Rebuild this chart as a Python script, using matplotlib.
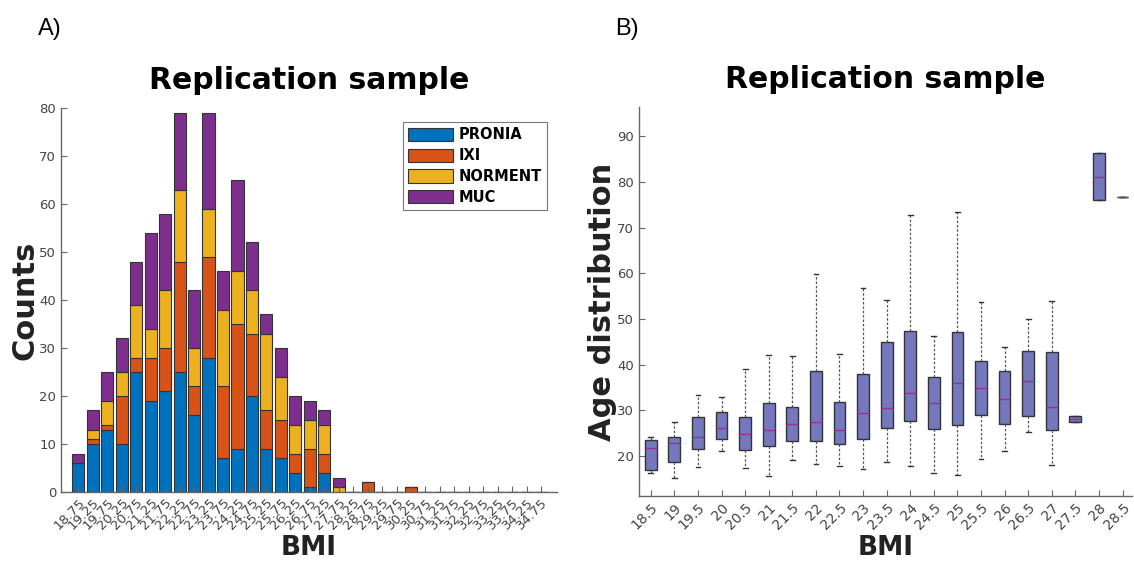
import matplotlib
matplotlib.use("Agg")
import matplotlib.pyplot as plt
import numpy as np

# ---------------- Data: panel A (stacked histogram) ----------------
bin_centers = [18.75 + 0.5 * i for i in range(33)]
pronia  = [6, 10, 13, 10, 25, 19, 21, 25, 16, 28, 7, 9, 20, 9, 7, 4, 1, 4, 0, 0, 0, 0, 0, 0] + [0] * 9
ixi     = [0, 1, 1, 10, 3, 9, 9, 23, 6, 21, 15, 26, 13, 8, 8, 4, 8, 4, 0, 0, 2, 0, 0, 1] + [0] * 9
norment = [0, 2, 5, 5, 11, 6, 12, 15, 8, 10, 16, 11, 9, 16, 9, 6, 6, 6, 1, 0, 0, 0, 0, 0] + [0] * 9
muc     = [2, 4, 6, 7, 9, 20, 16, 16, 12, 20, 8, 19, 10, 4, 6, 6, 4, 3, 2, 0, 0, 0, 0, 0] + [0] * 9
series_names = ["PRONIA", "IXI", "NORMENT", "MUC"]
series_colors = ["#0072BD", "#D95319", "#EDB120", "#7E2F8E"]

# ---------------- Data: panel B (box plots) ----------------
box_bmi = [18.5, 19, 19.5, 20, 20.5, 21, 21.5, 22, 22.5, 23, 23.5,
           24, 24.5, 25, 25.5, 26, 26.5, 27, 27.5, 28, 28.5]
box_labels = ["18.5", "19", "19.5", "20", "20.5", "21", "21.5", "22", "22.5", "23", "23.5",
              "24", "24.5", "25", "25.5", "26", "26.5", "27", "27.5", "28", "28.5"]
whis_lo = [16.3, 15.1, 17.5, 21.1, 17.4, 15.6, 19.1, 18.2, 17.8, 17.2, 18.7,
           17.8, 16.2, 15.8, 19.3, 21.2, 25.3, 18.0, 27.5, 76.0, 76.8]
q1      = [16.9, 18.6, 21.5, 23.7, 21.3, 22.2, 23.3, 23.3, 22.6, 23.7, 26.2,
           27.7, 25.9, 26.8, 28.9, 27.0, 28.8, 25.8, 27.5, 76.0, 76.8]
median  = [21.8, 22.8, 24.2, 26.2, 24.8, 25.8, 27.0, 27.4, 25.6, 29.5, 30.6,
           33.7, 31.5, 36.0, 35.0, 32.5, 36.5, 30.7, 28.1, 81.1, 76.8]
q3      = [23.5, 24.1, 28.6, 29.7, 28.5, 31.7, 30.8, 38.6, 31.9, 38.0, 44.9,
           47.4, 37.3, 47.2, 40.9, 38.6, 43.1, 42.8, 28.8, 86.3, 76.8]
whis_hi = [24.2, 27.4, 33.4, 33.0, 39.0, 42.1, 41.9, 59.8, 42.4, 56.7, 54.2,
           72.8, 46.3, 73.5, 53.7, 43.9, 49.9, 54.0, 28.8, 86.3, 76.8]

plt.rcParams['font.family'] = ['DejaVu Sans']
fig = plt.figure(figsize=(11.34, 5.65), dpi=100)

tick_color = "#444444"
spine_color = "#666666"

def style_axes(ax):
    for s in ["top", "right"]:
        ax.spines[s].set_visible(False)
    for s in ["left", "bottom"]:
        ax.spines[s].set_color(spine_color)
        ax.spines[s].set_linewidth(1.0)
    ax.tick_params(direction="in", colors=spine_color, labelcolor=tick_color,
                   labelsize=9.5, length=4, width=0.8)

# ---------------- Panel A ----------------
axA = fig.add_axes([0.0538, 0.1292, 0.4374, 0.6796])
bottom = np.zeros(len(bin_centers))
for name, vals, col in zip(series_names, [pronia, ixi, norment, muc], series_colors):
    v = np.array(vals, dtype=float)
    axA.bar(bin_centers, v, width=0.42, bottom=bottom, color=col,
            edgecolor="#333333", linewidth=0.8, label=name)
    bottom += v
axA.set_xlim(18.15, 35.3)
axA.set_ylim(0, 80)
axA.set_yticks(range(0, 81, 10))
axA.set_xticks(bin_centers)
axA.set_xticklabels([f"{b:.2f}" for b in bin_centers], rotation=45, ha="right",
                    rotation_mode="anchor")
style_axes(axA)
axA.tick_params(axis="x", labelsize=9.5, pad=3)
axA.set_title("Replication sample", fontsize=21.5, fontweight="bold", pad=14)
axA.set_ylabel("Counts", fontsize=22, fontweight="bold", color="#222222", labelpad=0)
axA.set_xlabel("BMI", fontsize=19, fontweight="bold", color="#222222", labelpad=2)
leg = axA.legend(loc="upper right", bbox_to_anchor=(0.98, 0.963),
                 prop={"weight": "bold", "size": 10.5}, frameon=True, fancybox=False,
                 edgecolor="#555555", handlelength=3.1, handleheight=1.0,
                 handletextpad=0.4, borderpad=0.35, labelspacing=0.4, borderaxespad=0)
leg.get_frame().set_linewidth(0.8)

# ---------------- Panel B ----------------
axB = fig.add_axes([0.5635, 0.1221, 0.4347, 0.6885])
stats = []
for i in range(len(box_bmi)):
    stats.append(dict(whislo=whis_lo[i], q1=q1[i], med=median[i], q3=q3[i],
                      whishi=whis_hi[i], fliers=[], label=box_labels[i]))
bp = axB.bxp(stats, positions=box_bmi, widths=0.25, patch_artist=True,
             showfliers=False, capwidths=0.1,
             boxprops=dict(facecolor="#7478BD", edgecolor="#333333", linewidth=1.0),
             medianprops=dict(color="#9B2F8F", linewidth=1.0),
             whiskerprops=dict(color="#555555", linestyle=(0, (2, 1.5)), linewidth=0.9),
             capprops=dict(color="#333333", linewidth=1.0))
# degenerate box (all statistics equal) shows as a plain gray line
for i in range(len(box_bmi)):
    if q1[i] == q3[i]:
        bp["medians"][i].set_color("#555555")
axB.set_xlim(18.25, 28.7)
axB.set_ylim(11.23, 96.45)
axB.set_yticks(range(20, 91, 10))
axB.set_xticks(box_bmi)
axB.set_xticklabels(box_labels, rotation=45, ha="right", rotation_mode="anchor")
style_axes(axB)
axB.tick_params(axis="x", labelsize=10)
axB.set_title("Replication sample", fontsize=21.5, fontweight="bold", pad=14)
axB.set_ylabel("Age distribution", fontsize=22, fontweight="bold", color="#222222", labelpad=0)
axB.set_xlabel("BMI", fontsize=19, fontweight="bold", color="#222222", labelpad=2)

# Panel labels
fig.text(38 / 1134, 1 - 35 / 565, "A)", fontsize=17, family="Liberation Sans")
fig.text(615 / 1134, 1 - 35 / 565, "B)", fontsize=17, family="Liberation Sans")

fig.savefig("out.png", dpi=100)
